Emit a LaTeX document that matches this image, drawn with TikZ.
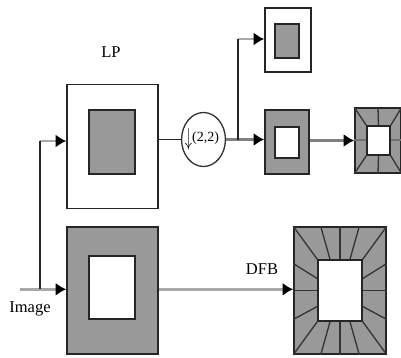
\documentclass[tikz,border=0pt]{standalone}
\usepackage{fontspec}
\setmainfont{Liberation Serif}
\usepackage{xcolor}
\usepackage{graphicx}
\usepackage{tikz}
\usetikzlibrary{calc, shapes.geometric, arrows.meta}

\definecolor{bandgray}{gray}{0.6}
\definecolor{wiregray}{gray}{0.66}
\tikzset{
    box/.style={draw=black!85, line width=1.6pt, inner sep=0pt, minimum width=#1},
    whitebox/.style={box=#1, fill=white},
    graybox/.style={box=#1, fill=bandgray},
    wire/.style={draw=black!85, line width=1.6pt},
    band/.style={draw=wiregray, line width=2.8pt},
    tip/.style={-{Latex[black, length=10.5pt, width=13pt]}},
    spoke/.style={draw=black!80, line width=1.3pt},
    lbl/.style={font=\fontsize{16.5}{18}\selectfont, inner sep=0pt}
}

\begin{document}
\begin{tikzpicture}[x=1pt, y=-1pt]
    \useasboundingbox (0,0) rectangle (401,358);

    % Labels
    \node[lbl] (lplabel) at (111,52) {LP};
    \node[lbl] (dfblabel) at (262,269) {DFB};
    \node[lbl] (imagelabel) at (30,309) {Image};

    % Left column
    \node[whitebox=91, minimum height=124] (lpbox) at (112.5,146.5) {};
    \node[graybox=46, minimum height=64] (lpinner) at (112,142) {};
    \node[graybox=91, minimum height=127] (imgbox) at (112.5,290.5) {};
    \node[whitebox=46, minimum height=63] (imginner) at (112,287.5) {};

    % Downsampler
    \node[ellipse, draw=black!80, line width=1.3pt, inner sep=0pt, minimum width=39, minimum height=54,
        font=\fontsize{14}{15}\selectfont] (down) at (203.5,139.5)
        {\hspace{-3pt}\scalebox{1}[1.7]{$\downarrow$}\raisebox{4pt}{(2,2)}};

    % Middle column
    \node[whitebox=46, minimum height=64] (topbox) at (288,40) {};
    \node[graybox=24, minimum height=34] (topinner) at (287,41) {};
    \node[graybox=44, minimum height=64] (midbox) at (287,142) {};
    \node[whitebox=24, minimum height=31] (midinner) at (287,142.5) {};

    % Small fan
    \node[graybox=46, minimum height=65] (smallfan) at (378,140.5) {};
    \node[whitebox=23, minimum height=29] (smallin) at (378.5,140.5) {};
    \draw[band, line width=2pt, draw=black!55] (smallfan.west) -- (smallin.west);
    \draw[band, line width=2pt, draw=black!55] (smallin.east) -- (smallfan.east);
    \foreach \a/\b in {north west/north west, north east/north east, south west/south west, south east/south east, north/north, south/south}
        \draw[spoke] (smallfan.\a) -- (smallin.\b);

    % Large fan
    \node[graybox=92, minimum height=127] (bigfan) at (340,290.5) {};
    \node[whitebox=44, minimum height=61] (bigin) at (340,290.5) {};
    \foreach \a in {north west, north east, south west, south east, north, south, west, east}
        \draw[spoke] (bigfan.\a) -- (bigin.\a);
    \foreach \dx/\ex in {-19.3/-10, 19.3/10} {
        \draw[spoke] ($(bigfan.north)+(\dx,0)$) -- ($(bigin.north)+(\ex,0)$);
        \draw[spoke] ($(bigfan.south)+(\dx,0)$) -- ($(bigin.south)+(\ex,0)$);
    }
    \foreach \dy/\ey in {-27/-12, 29/16} {
        \draw[spoke] ($(bigfan.west)+(0,\dy)$) -- ($(bigin.west)+(0,\ey)$);
        \draw[spoke] ($(bigfan.east)+(0,\dy)$) -- ($(bigin.east)+(0,\ey)$);
    }

    % Connectors
    \coordinate (imgstart) at (20,289.3);
    \coordinate (leftfoot) at (40,289.3);
    \coordinate (lefttop) at (40,141);
    \coordinate (branch) at (238,140.5);
    \coordinate (branchtop) at (238,39);

    \draw[band, tip] (imgstart) -- (imgstart -| imgbox.west);
    \draw[band, tip] (lefttop) -- (lefttop -| lpbox.west);
    \draw[wire] (leftfoot) -- (lefttop);
    \draw[wire] (down.west -| lpbox.east) -- (down.west);
    \draw[band, draw=black!50, tip] (down.east) -- (down.east -| midbox.west);
    \draw[band, tip] (branchtop) -- (branchtop -| topbox.west);
    \draw[wire] (branch) -- (branchtop);
    \draw[band, draw=black!50, tip] (midbox.east |- smallfan.west) -- (smallfan.west);
    \draw[band, tip] (imgstart -| imgbox.east) -- (imgstart -| bigfan.west);
\end{tikzpicture}
\end{document}
